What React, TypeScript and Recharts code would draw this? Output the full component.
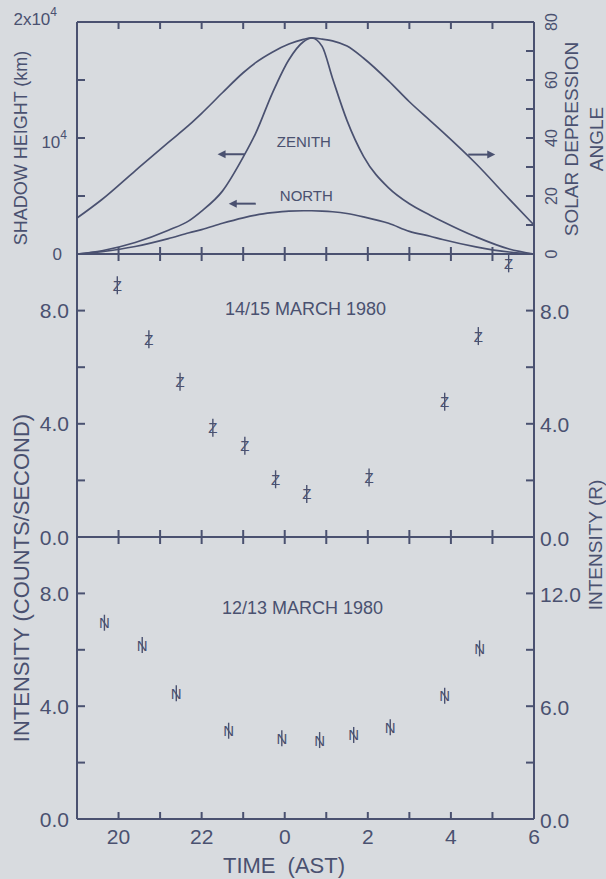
import React from 'react';
import { ComposedChart, Line, Scatter, XAxis, YAxis, ReferenceDot, ReferenceLine } from 'recharts';

const INK = '#4a5170';
const PAPER = '#d8dbdf';
const FONT = '"Liberation Sans", Arial, sans-serif';
const W = 606;
const H = 879;

// time runs 19 -> 6 AST; hours after midnight are counted on as 24..30
const curveHours = [19.0, 19.6, 20.4, 21.2, 21.7, 22.0, 22.5, 23.0, 23.3, 23.7, 24.1, 24.45, 24.65, 24.9, 25.15, 25.5, 25.9, 26.5, 27.0, 27.5, 27.8, 28.6, 29.4, 30.0];
const depressionAngle = [12.4, 18.8, 28.7, 38.5, 44.5, 48.5, 55.6, 62.5, 66.0, 69.6, 72.4, 74.0, 74.5, 74.1, 73.5, 71.7, 67.5, 59.7, 52.5, 46.0, 42.1, 31.2, 19.0, 10.0];
const zenithHeight = [0, 280, 990, 2050, 2880, 3700, 5420, 8350, 10400, 13850, 16750, 18300, 18620, 17900, 15150, 11500, 8400, 5700, 4330, 3350, 2800, 1480, 430, 0];
const northHeight = [0, 210, 650, 1330, 1830, 2100, 2650, 3120, 3350, 3560, 3700, 3730, 3730, 3700, 3640, 3490, 3200, 2650, 1950, 1530, 1250, 620, 170, 0];

// 14/15 March 1980 (counts/second)
const march1415Hours = [19.97, 20.73, 21.48, 22.27, 23.04, 23.78, 24.53, 26.03, 27.85, 28.66, 29.39];
const march1415Counts = [8.9, 6.99, 5.49, 3.86, 3.22, 2.04, 1.52, 2.1, 4.78, 7.1, 9.67];

// 12/13 March 1980 (counts/second)
const march1213Hours = [19.66, 20.57, 21.39, 22.65, 23.93, 24.84, 25.66, 26.54, 27.85, 28.69];
const march1213Counts = [6.96, 6.17, 4.46, 3.13, 2.86, 2.8, 2.98, 3.25, 4.37, 6.05];

const hourTicks = [20, 21, 22, 23, 24, 25, 26, 27, 28, 29, 30];
const heightTicks = [0, 5000, 10000, 15000, 20000];
const angleTicks = [0, 10, 20, 30, 40, 50, 60, 70, 80];
const countTicks = [0, 2, 4, 6, 8, 10];
const rayleighTicks = [0, 3, 6, 9, 12, 15];

const curveRows = curveHours.map((t, i) => ({
  t,
  angle: depressionAngle[i],
  zenith: zenithHeight[i],
  north: northHeight[i],
}));
const rows1415 = march1415Hours.map((t, i) => ({ t, v: march1415Counts[i] }));
const rows1213 = march1213Hours.map((t, i) => ({ t, v: march1213Counts[i] }));

// panel frames (plot tops/bottoms in page pixels)
const TOP1 = 22;
const BOT1 = 254;
const BOT2 = 537;
const BOT3 = 819;

const axisStroke = { stroke: INK, strokeWidth: 2 };
const ink = { fill: INK, fontFamily: FONT };

type TickLabel = { text: React.ReactNode; dx?: number; dy?: number };

const sup = (s: string) => (
  <tspan dy={-7} fontSize={12}>
    {s}
  </tspan>
);

const heightLabels: Record<number, TickLabel> = {
  0: { text: '0', dx: -7 },
  10000: { text: <>10{sup('4')}</>, dx: -2, dy: 4 },
  20000: { text: <>2x10{sup('4')}</>, dx: -12, dy: -3 },
};
const angleLabels: Record<number, TickLabel> = {
  0: { text: '0' },
  20: { text: '20' },
  40: { text: '40' },
  60: { text: '60' },
  80: { text: '80' },
};
const countLabels: Record<number, TickLabel> = {
  0: { text: '0.0' },
  4: { text: '4.0' },
  8: { text: '8.0' },
};
const rayleighLabels: Record<number, TickLabel> = {
  0: { text: '0.0' },
  6: { text: '6.0' },
  12: { text: '12.0' },
};

// y ticks point inward, labels sit outside (tickMargin 8, tickSize 0)
function leftTicks(labels: Record<number, TickLabel>, fontSize: number) {
  return (props: any) => {
    const { x, y, payload } = props;
    const ax = x + 8;
    const lab = labels[payload.value];
    return (
      <g>
        <line x1={ax} x2={ax + 8} y1={y} y2={y} {...axisStroke} />
        {lab && (
          <text x={x + (lab.dx ?? 0)} y={y + (lab.dy ?? 0)} textAnchor="end" dominantBaseline="central" fontSize={fontSize} {...ink}>
            {lab.text}
          </text>
        )}
      </g>
    );
  };
}

function rightTicks(labels: Record<number, TickLabel>, fontSize: number, rotated = false) {
  return (props: any) => {
    const { x, y, payload } = props;
    const ax = x - 8;
    const lab = labels[payload.value];
    return (
      <g>
        <line x1={ax} x2={ax - 8} y1={y} y2={y} {...axisStroke} />
        {lab &&
          (rotated ? (
            <text transform={`translate(${x + 9},${y}) rotate(-90)`} textAnchor="middle" dominantBaseline="central" fontSize={fontSize} {...ink}>
              {lab.text}
            </text>
          ) : (
            <text x={x - 2} y={y + 1} textAnchor="start" dominantBaseline="central" fontSize={fontSize} {...ink}>
              {lab.text}
            </text>
          ))}
      </g>
    );
  };
}

// hour ticks: inward on the bottom frame and on the panel's top frame, labels only on the last panel
function hourTicksFor(panelTop: number, withLabels: boolean) {
  return (props: any) => {
    const { x, y, payload } = props;
    const v = payload.value as number;
    return (
      <g>
        {v < 30 && <line x1={x} x2={x} y1={y} y2={y - 7} {...axisStroke} />}
        {v < 30 && <line x1={x} x2={x} y1={panelTop} y2={panelTop + 7} {...axisStroke} />}
        {withLabels && v % 2 === 0 && (
          <text x={x} y={y + 17} textAnchor="middle" dominantBaseline="central" fontSize={21} {...ink}>
            {v % 24}
          </text>
        )}
      </g>
    );
  };
}

const vTitle = (text: string, x: number, y: number, fontSize: number) => () =>
  (
    <text transform={`translate(${x},${y}) rotate(-90)`} textAnchor="middle" dominantBaseline="central" fontSize={fontSize} {...ink}>
      {text}
    </text>
  );

const textMark = (text: string, fontSize: number) => (p: any) =>
  (
    <text x={p.cx} y={p.cy} textAnchor="middle" dominantBaseline="central" fontSize={fontSize} {...ink}>
      {text}
    </text>
  );

const arrowMark = (dir: 'left' | 'right') => (p: any) => {
  const s = dir === 'left' ? -1 : 1;
  const tip = p.cx + s * 14;
  return (
    <g>
      <line x1={p.cx - s * 13} x2={tip - s * 6} y1={p.cy} y2={p.cy} stroke={INK} strokeWidth={2} />
      <polygon points={`${tip},${p.cy} ${tip - s * 8},${p.cy - 4} ${tip - s * 8},${p.cy + 4}`} fill={INK} />
    </g>
  );
};

// data marks: letter with a vertical error bar through it
const letterMark = (letter: string, half: number) => (p: any) =>
  (
    <g>
      <line x1={p.cx} x2={p.cx} y1={p.cy - half} y2={p.cy + half} stroke={INK} strokeWidth={1.4} />
      <text x={p.cx} y={p.cy} textAnchor="middle" dominantBaseline="central" fontSize={15} {...ink}>
        {letter}
      </text>
    </g>
  );

const sideAxis = {
  type: 'number' as const,
  interval: 0,
  width: 60,
  tickSize: 0,
  tickMargin: 8,
  tickLine: false,
  axisLine: axisStroke,
};

const timeAxis = {
  xAxisId: 'x',
  dataKey: 't',
  type: 'number' as const,
  domain: [19, 30],
  ticks: hourTicks,
  interval: 0,
  orientation: 'bottom' as const,
  tickSize: 0,
  tickMargin: 0,
  tickLine: false,
  axisLine: axisStroke,
};

const layer: React.CSSProperties = { position: 'absolute', left: 0, top: 0 };

function ShadowPanel() {
  return (
    <ComposedChart width={W} height={H} data={curveRows} margin={{ top: TOP1, right: 12, bottom: 0, left: 17 }}>
      <XAxis {...timeAxis} height={H - BOT1} tick={hourTicksFor(TOP1, false)} />
      <YAxis
        yAxisId="km"
        orientation="left"
        domain={[0, 20000]}
        ticks={heightTicks}
        tick={leftTicks(heightLabels, 17)}
        label={{ content: vTitle('SHADOW HEIGHT (km)', 21, 148, 18) }}
        {...sideAxis}
      />
      <YAxis
        yAxisId="deg"
        orientation="right"
        domain={[0, 80]}
        ticks={angleTicks}
        tick={rightTicks(angleLabels, 16, true)}
        label={{
          content: () => (
            <g>
              {vTitle('SOLAR DEPRESSION', 571, 139, 19)()}
              {vTitle('ANGLE', 596, 139, 19)()}
            </g>
          ),
        }}
        {...sideAxis}
      />
      <ReferenceLine xAxisId="x" yAxisId="km" y={20000} stroke={INK} strokeWidth={2} />
      <Line xAxisId="x" yAxisId="deg" dataKey="angle" type="monotone" stroke={INK} strokeWidth={1.7} dot={false} activeDot={false} isAnimationActive={false} />
      <Line xAxisId="x" yAxisId="km" dataKey="zenith" type="monotone" stroke={INK} strokeWidth={1.7} dot={false} activeDot={false} isAnimationActive={false} />
      <Line xAxisId="x" yAxisId="km" dataKey="north" type="monotone" stroke={INK} strokeWidth={1.7} dot={false} activeDot={false} isAnimationActive={false} />
      <ReferenceDot xAxisId="x" yAxisId="km" x={24.46} y={9660} shape={textMark('ZENITH', 15)} />
      <ReferenceDot xAxisId="x" yAxisId="km" x={24.52} y={5060} shape={textMark('NORTH', 15)} />
      <ReferenceDot xAxisId="x" yAxisId="km" x={22.72} y={8600} shape={arrowMark('left')} />
      <ReferenceDot xAxisId="x" yAxisId="km" x={22.99} y={4340} shape={arrowMark('left')} />
      <ReferenceDot xAxisId="x" yAxisId="km" x={28.73} y={8570} shape={arrowMark('right')} />
    </ComposedChart>
  );
}

function March1415Panel() {
  return (
    <ComposedChart width={W} height={H} margin={{ top: BOT1, right: 12, bottom: 0, left: 17 }}>
      <XAxis {...timeAxis} height={H - BOT2} tick={hourTicksFor(BOT1, false)} />
      <YAxis yAxisId="c" orientation="left" domain={[0, 10]} ticks={countTicks} tick={leftTicks(countLabels, 21)} {...sideAxis} />
      <YAxis yAxisId="r" orientation="right" domain={[0, 10]} allowDataOverflow ticks={countTicks} tick={rightTicks(countLabels, 21)} {...sideAxis} />
      <Scatter xAxisId="x" yAxisId="c" data={rows1415} dataKey="v" shape={letterMark('Z', 9)} isAnimationActive={false} />
      <ReferenceDot xAxisId="x" yAxisId="c" x={24.5} y={8.05} shape={textMark('14/15 MARCH 1980', 18)} />
    </ComposedChart>
  );
}

function March1213Panel() {
  return (
    <ComposedChart width={W} height={H} margin={{ top: BOT2, right: 12, bottom: 0, left: 17 }}>
      <XAxis
        {...timeAxis}
        height={H - BOT3}
        tick={hourTicksFor(BOT2, true)}
        label={{
          content: () => (
            <text x={284} y={865} textAnchor="middle" dominantBaseline="central" fontSize={22} wordSpacing={6} {...ink}>
              TIME (AST)
            </text>
          ),
        }}
      />
      <YAxis
        yAxisId="c"
        orientation="left"
        domain={[0, 10]}
        ticks={countTicks}
        tick={leftTicks(countLabels, 21)}
        label={{ content: vTitle('INTENSITY (COUNTS/SECOND)', 21, 578, 22) }}
        {...sideAxis}
      />
      <YAxis
        yAxisId="r"
        orientation="right"
        domain={[0, 15]}
        allowDataOverflow
        ticks={rayleighTicks}
        tick={rightTicks(rayleighLabels, 21)}
        label={{ content: vTitle('INTENSITY (R)', 595, 545, 19) }}
        {...sideAxis}
      />
      <Scatter xAxisId="x" yAxisId="c" data={rows1213} dataKey="v" shape={letterMark('N', 8)} isAnimationActive={false} />
      <ReferenceDot xAxisId="x" yAxisId="c" x={24.43} y={7.48} shape={textMark('12/13 MARCH 1980', 18)} />
    </ComposedChart>
  );
}

export default function App() {
  return (
    <div style={{ position: 'absolute', left: 0, top: 0, width: W, height: H, background: PAPER, overflow: 'hidden' }}>
      <div style={layer}>
        <ShadowPanel />
      </div>
      <div style={layer}>
        <March1415Panel />
      </div>
      <div style={layer}>
        <March1213Panel />
      </div>
    </div>
  );
}
